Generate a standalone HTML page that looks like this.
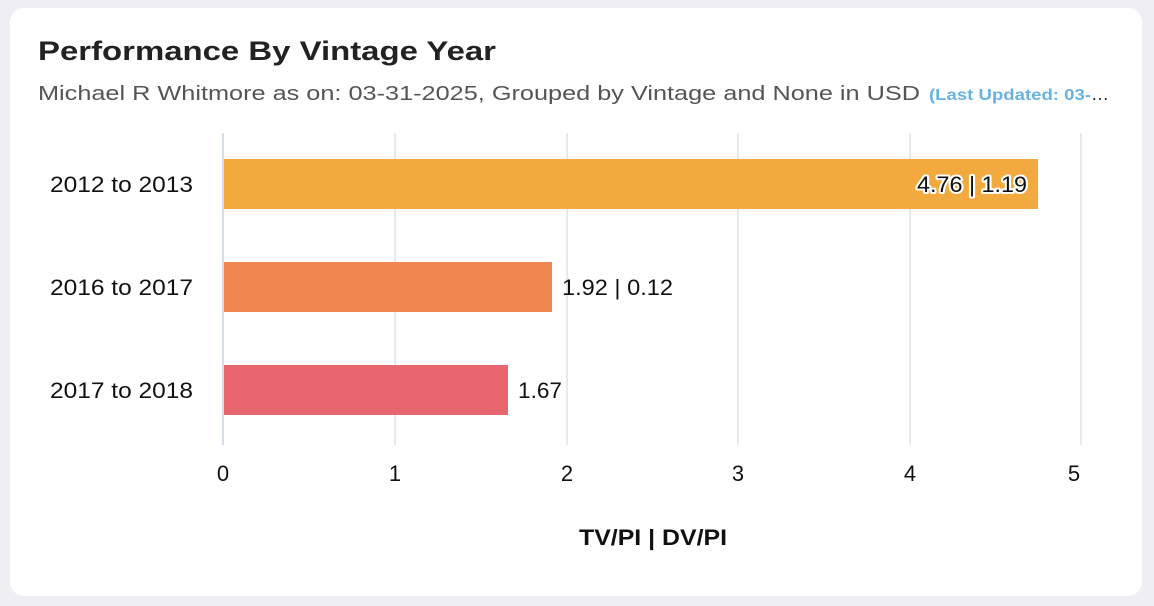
<!DOCTYPE html>
<html><head><style>
html,body{margin:0;padding:0;background:#efeff3;width:1154px;height:606px;overflow:hidden}
.card{position:absolute;left:10px;top:8px;width:1132px;height:588px;background:#fff;border-radius:14px}
svg{position:absolute;left:0;top:0}
text{font-family:"Liberation Sans",sans-serif}
</style></head><body>
<div class="card"></div>
<svg width="1154" height="606">
<text x="38" y="60" font-size="27" font-weight="bold" fill="#222" textLength="458" lengthAdjust="spacingAndGlyphs">Performance By Vintage Year</text>
<text x="38" y="100" font-size="20" fill="#555" textLength="882" lengthAdjust="spacingAndGlyphs">Michael R Whitmore as on: 03-31-2025, Grouped by Vintage and None in USD</text>
<text x="929" y="100" font-size="16" font-weight="bold" fill="#6ab2e2" textLength="162" lengthAdjust="spacingAndGlyphs">(Last Updated: 03-</text>
<text x="1091" y="100" font-size="18" fill="#222">…</text>
<g stroke="#e2e2e6" stroke-width="1.5">
<line x1="395" y1="133" x2="395" y2="445"/><line x1="567" y1="133" x2="567" y2="445"/>
<line x1="738" y1="133" x2="738" y2="445"/><line x1="910" y1="133" x2="910" y2="445"/>
<line x1="1081" y1="133" x2="1081" y2="445"/>
</g>
<line x1="223" y1="133" x2="223" y2="445" stroke="#c9d3e6" stroke-width="1.5"/>
<rect x="224" y="159" width="814" height="50" fill="#f2aa3e"/>
<rect x="224" y="262" width="328" height="50" fill="#f08650"/>
<rect x="224" y="365" width="284" height="50" fill="#e8666d"/>
<g font-size="22" fill="#111">
<text x="50" y="192" textLength="143" lengthAdjust="spacingAndGlyphs">2012 to 2013</text>
<text x="50" y="295" textLength="143" lengthAdjust="spacingAndGlyphs">2016 to 2017</text>
<text x="50" y="398" textLength="143" lengthAdjust="spacingAndGlyphs">2017 to 2018</text>
<text x="917" y="192" textLength="110" lengthAdjust="spacingAndGlyphs" stroke="#fff" stroke-width="4" stroke-linejoin="round">4.76 | 1.19</text>
<text x="917" y="192" textLength="110" lengthAdjust="spacingAndGlyphs">4.76 | 1.19</text>
<text x="562" y="295" textLength="111" lengthAdjust="spacingAndGlyphs">1.92 | 0.12</text>
<text x="518" y="398" textLength="44" lengthAdjust="spacingAndGlyphs">1.67</text>
<g text-anchor="middle">
<text x="223" y="481">0</text><text x="395" y="481">1</text><text x="567" y="481">2</text>
<text x="738" y="481">3</text><text x="910" y="481">4</text><text x="1074" y="481">5</text>
</g>
<text x="579" y="545" font-weight="bold" font-size="22" textLength="148" lengthAdjust="spacingAndGlyphs">TV/PI | DV/PI</text>
</g>
</svg>
</body></html>
